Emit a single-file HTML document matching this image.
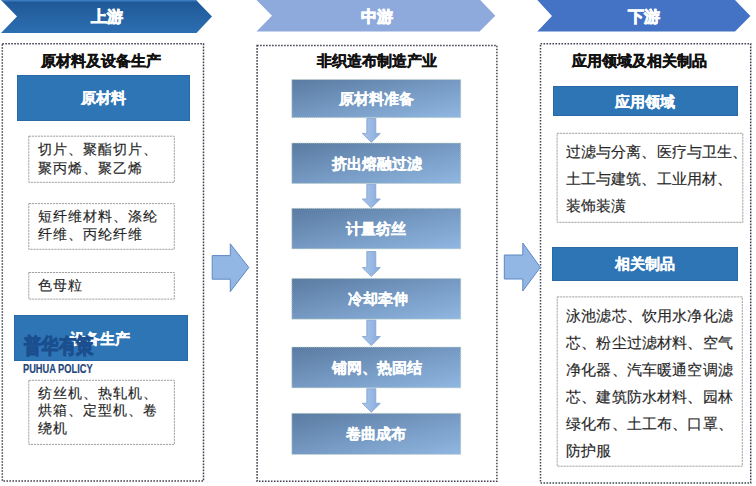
<!DOCTYPE html>
<html><head><meta charset="utf-8">
<style>
html,body{margin:0;padding:0;background:#fff;}
body{width:756px;height:486px;position:relative;overflow:hidden;font-family:"Liberation Sans",sans-serif;}
.a{position:absolute;}
.t{position:absolute;white-space:nowrap;line-height:1;}
.w{color:#fff;font-weight:bold;font-size:15px;-webkit-text-stroke:0.25px #fff;}
.h{color:#111;font-weight:bold;font-size:15px;-webkit-text-stroke:0.35px #111;}
.g{color:#262626;font-size:14px;letter-spacing:1.1px;-webkit-text-stroke:0.15px #262626;}
.bar{position:absolute;background:#2e75b6;box-shadow:inset 0 0 0 0.8px #2a66a3;}
.gb{position:absolute;box-sizing:border-box;border:1px dashed #b8b8b8;}
svg{position:absolute;left:0;top:0;}
</style></head><body>
<svg width="756" height="486" viewBox="0 0 756 486">
<defs>
<linearGradient id="gc1" x1="0" y1="0" x2="0" y2="1">
<stop offset="0" stop-color="#1f5796"/><stop offset="1" stop-color="#2c6fb2"/>
</linearGradient>
<linearGradient id="gstep" x1="0" y1="0" x2="1" y2="1">
<stop offset="0" stop-color="#5a7ba2"/><stop offset="1" stop-color="#90b7e2"/>
</linearGradient>
<linearGradient id="garr" x1="0" y1="0" x2="1" y2="0">
<stop offset="0" stop-color="#aac6ea"/><stop offset="1" stop-color="#88abdc"/>
</linearGradient>
</defs>
<!-- chevrons -->
<polygon points="1,0 196,0 212,16.5 196.5,33 1,33 17,16.5" fill="url(#gc1)"/>
<polygon points="1.6,0 196,0 197.5,1.5 3,1.5" fill="#3b7cc0"/>
<polygon points="256.5,0 480.2,0 495.3,15.7 479.6,31.5 256.5,31.5 272,15.7" fill="#8eaadc"/>
<polygon points="537.3,0 735,0 750.4,16 735,31.6 537.3,31.6 552,16" fill="#4472c4"/>
<!-- outer dotted boxes -->
<g fill="none" stroke="#3f4450" stroke-width="1.5" stroke-dasharray="1.6 1.4">
<rect x="2.3" y="43.8" width="201.2" height="437.3"/>
<rect x="257.1" y="45.5" width="239.8" height="435.8"/>
<rect x="540.5" y="43.8" width="210.2" height="439.2"/>
</g>
<!-- gray boxes -->
<g fill="none" stroke="#a2a2a2" stroke-width="1" stroke-dasharray="2.2 0.8">
<rect x="28.8" y="136.2" width="145.5" height="46.1"/>
<rect x="28.8" y="203.6" width="145.5" height="45.7"/>
<rect x="28.8" y="272.5" width="145.5" height="26.6"/>
<rect x="28.8" y="380.3" width="145.6" height="64.1"/>
<rect x="557.1" y="133.3" width="185.7" height="89.0"/>
<rect x="557.2" y="296.9" width="185.1" height="169.3"/>
</g>
<!-- step boxes -->
<g fill="url(#gstep)" stroke="#c9d9c9" stroke-width="1" stroke-dasharray="1 1">
<rect x="291.8" y="79.5" width="169" height="38.2"/>
<rect x="291.8" y="143" width="169" height="40.6"/>
<rect x="291.8" y="208.3" width="169" height="40.6"/>
<rect x="291.8" y="278.4" width="169" height="40.8"/>
<rect x="291.8" y="347" width="169" height="40.9"/>
<rect x="291.8" y="413.3" width="169" height="41.2"/>
</g>
<!-- small down arrows -->
<g fill="url(#garr)" stroke="#7fa0d0" stroke-width="0.8">
<path d="M366.8,118.5 H375.8 V133.4 H380.3 L371.3,142.3 L362.3,133.4 H366.8 Z"/>
<path d="M366.8,184.4 H375.8 V199 H380.3 L371.3,207.8 L362.3,199 H366.8 Z"/>
<path d="M366.8,251.5 H375.8 V267.6 H380.3 L371.3,276.5 L362.3,267.6 H366.8 Z"/>
<path d="M366.8,320.2 H375.8 V336.5 H380.3 L371.3,345.6 L362.3,336.5 H366.8 Z"/>
<path d="M366.8,388.8 H375.8 V403.3 H380.3 L371.3,412.2 L362.3,403.3 H366.8 Z"/>
</g>
<!-- big right arrows -->
<g fill="#92b7e4" stroke="#5f88c4" stroke-width="1">
<path d="M212.2,255.6 H230.3 V243.8 L248.8,267.5 L230.3,291.6 V279.2 H212.2 Z"/>
<path d="M504.3,255 H522.8 V243 L540.3,267.3 L522.8,291 V279 H504.3 Z"/>
</g>
</svg>

<!-- chevron labels -->
<div class="t w" style="left:90.5px;top:9px;font-size:16px;-webkit-text-stroke:0.8px #fff;">上游</div>
<div class="t w" style="left:360.5px;top:9px;font-size:16px;-webkit-text-stroke:0.8px #fff;">中游</div>
<div class="t w" style="left:628px;top:9px;font-size:16px;-webkit-text-stroke:0.8px #fff;">下游</div>

<!-- left column -->
<div class="t h" style="left:41px;top:52.5px;">原材料及设备生产</div>
<div class="bar" style="left:17.4px;top:75.2px;width:173.1px;height:46.1px;"></div>
<div class="t w" style="left:81.3px;top:89.5px;">原材料</div>
<div class="t g" style="left:37.8px;top:140.3px;line-height:18.2px;">切片、聚酯切片、<br>聚丙烯、聚乙烯</div>
<div class="t g" style="left:37.8px;top:206.8px;line-height:18.5px;">短纤维材料、涤纶<br>纤维、丙纶纤维</div>
<div class="t g" style="left:37.8px;top:278.4px;">色母粒</div>
<div class="bar" style="left:14px;top:314.8px;width:173.6px;height:45.8px;"></div>
<div class="t w" style="left:69.6px;top:330.5px;">设备生产</div>
<div class="t g" style="left:37.5px;top:384.7px;line-height:17.8px;">纺丝机、热轧机、<br>烘箱、定型机、卷<br>绕机</div>

<!-- middle column -->
<div class="t h" style="left:317px;top:52.5px;">非织造布制造产业</div>
<div class="t w" style="left:339.3px;top:91px;">原材料准备</div>
<div class="t w" style="left:331.8px;top:156px;">挤出熔融过滤</div>
<div class="t w" style="left:346.2px;top:221px;">计量纺丝</div>
<div class="t w" style="left:347.7px;top:291px;">冷却牵伸</div>
<div class="t w" style="left:331.8px;top:360px;">铺网、热固结</div>
<div class="t w" style="left:346.2px;top:426px;">卷曲成布</div>

<!-- right column -->
<div class="t h" style="left:572px;top:52.5px;">应用领域及相关制品</div>
<div class="bar" style="left:553px;top:86.2px;width:185.2px;height:29.8px;"></div>
<div class="t w" style="left:615.2px;top:94px;">应用领域</div>
<div class="t g" style="left:565.6px;top:138.5px;line-height:27px;font-size:14.5px;letter-spacing:0.17px;">过滤与分离、医疗与卫生、<br>土工与建筑、工业用材、<br>装饰装潢</div>
<div class="bar" style="left:551.8px;top:247.1px;width:186px;height:34.2px;"></div>
<div class="t w" style="left:614.5px;top:256px;">相关制品</div>
<div class="t g" style="left:566px;top:303.3px;line-height:27px;font-size:14.5px;letter-spacing:0.17px;">泳池滤芯、饮用水净化滤<br>芯、粉尘过滤材料、空气<br>净化器、汽车暖通空调滤<br>芯、建筑防水材料、园林<br>绿化布、土工布、口罩、<br>防护服</div>

<!-- watermark -->
<div class="t" style="left:23.9px;top:335px;font-size:21px;font-weight:bold;color:#1b4e8e;-webkit-text-stroke:1px #1b4e8e;transform-origin:0 0;transform:scaleX(0.83);">普华有策</div>
<div class="t" style="left:23.2px;top:363px;font-size:12.5px;font-weight:bold;color:#24467a;-webkit-text-stroke:0.2px #24467a;transform-origin:0 0;transform:scaleX(0.74);">PUHUA POLICY</div>
</body></html>
